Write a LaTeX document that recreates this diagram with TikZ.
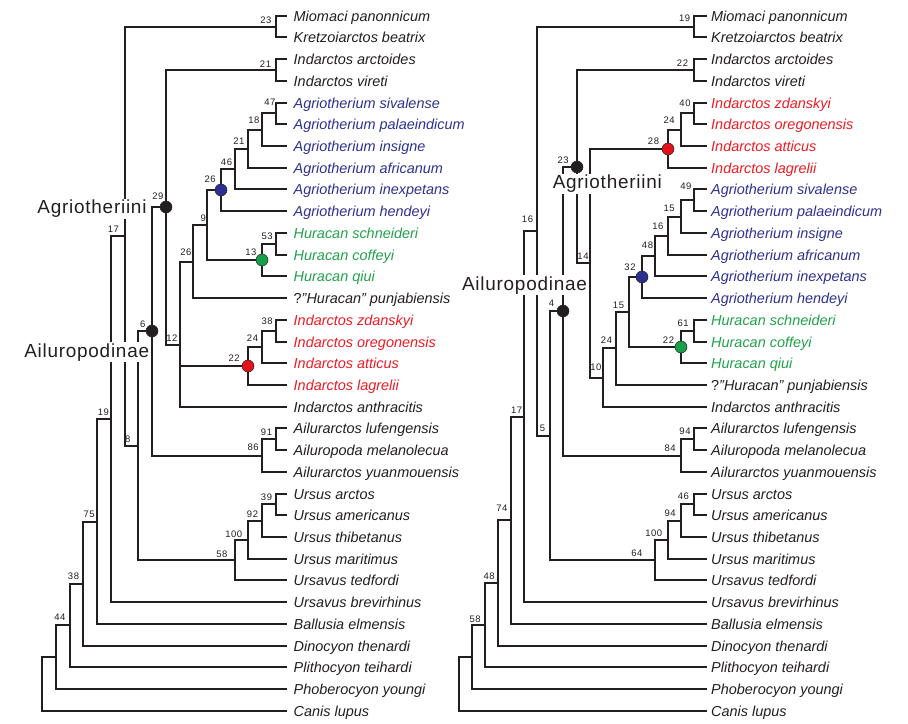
\documentclass[tikz,border=0pt]{standalone}
\usepackage{fontspec}
\setmainfont{Liberation Sans}
\newfontfamily\cladefont[LetterSpace=4]{Liberation Sans}
\newfontfamily\bsfont[LetterSpace=6]{Liberation Sans}
\definecolor{ink}{HTML}{231F20}
\definecolor{cblue}{HTML}{2E3192}
\definecolor{cred}{HTML}{ED1C24}
\definecolor{cgreen}{HTML}{22A24B}
\definecolor{dblue}{HTML}{2B2F8F}
\definecolor{dred}{HTML}{E3121B}
\definecolor{dgreen}{HTML}{16A04A}
\begin{document}
\begin{tikzpicture}[x=1bp,y=-1bp,
  br/.style={draw=ink, line width=1.8bp, line join=miter},
  leaf/.style={inner sep=0pt, anchor=base west, font=\itshape\fontsize{14.5}{17}\selectfont},
  bs/.style={inner sep=0pt, text=ink, font=\bsfont\fontsize{9.5}{11}\selectfont},
  clade/.style={inner sep=1pt, anchor=base, fill=white, text=ink, font=\cladefont\fontsize{19}{22}\selectfont},
  dot/.style={circle, minimum size=12bp, inner sep=0pt, draw=ink, line width=0.5bp}]
\useasboundingbox[fill=white] (0,0) rectangle (908,724);

% ---------- leaves ----------
\foreach \i/\nm/\col in {1/Miomaci panonnicum/ink, 2/Kretzoiarctos beatrix/ink,
  3/Indarctos arctoides/ink, 4/Indarctos vireti/ink,
  5/Agriotherium sivalense/cblue, 6/Agriotherium palaeindicum/cblue,
  7/Agriotherium insigne/cblue, 8/Agriotherium africanum/cblue,
  9/Agriotherium inexpetans/cblue, 10/Agriotherium hendeyi/cblue,
  11/Huracan schneideri/cgreen, 12/Huracan coffeyi/cgreen, 13/Huracan qiui/cgreen,
  14/{\upshape ?}"Huracan" punjabiensis/ink,
  15/Indarctos zdanskyi/cred, 16/Indarctos oregonensis/cred,
  17/Indarctos atticus/cred, 18/Indarctos lagrelii/cred,
  19/Indarctos anthracitis/ink, 20/Ailurarctos lufengensis/ink,
  21/Ailuropoda melanolecua/ink, 22/Ailurarctos yuanmouensis/ink,
  23/Ursus arctos/ink, 24/Ursus americanus/ink, 25/Ursus thibetanus/ink,
  26/Ursus maritimus/ink, 27/Ursavus tedfordi/ink, 28/Ursavus brevirhinus/ink,
  29/Ballusia elmensis/ink, 30/Dinocyon thenardi/ink, 31/Plithocyon teihardi/ink,
  32/Phoberocyon youngi/ink, 33/Canis lupus/ink}
{
  \coordinate (aL\i) at (287,{round(15.7+(\i-1)*21.72)});
  \node[leaf, text=\col] (aT\i) at (293.5,{round(15.7+(\i-1)*21.72)+5.4}) {\nm};
}
\foreach \i/\nm/\col in {1/Miomaci panonnicum/ink, 2/Kretzoiarctos beatrix/ink,
  3/Indarctos arctoides/ink, 4/Indarctos vireti/ink,
  5/Indarctos zdanskyi/cred, 6/Indarctos oregonensis/cred,
  7/Indarctos atticus/cred, 8/Indarctos lagrelii/cred,
  9/Agriotherium sivalense/cblue, 10/Agriotherium palaeindicum/cblue,
  11/Agriotherium insigne/cblue, 12/Agriotherium africanum/cblue,
  13/Agriotherium inexpetans/cblue, 14/Agriotherium hendeyi/cblue,
  15/Huracan schneideri/cgreen, 16/Huracan coffeyi/cgreen, 17/Huracan qiui/cgreen,
  18/{\upshape ?}"Huracan" punjabiensis/ink,
  19/Indarctos anthracitis/ink, 20/Ailurarctos lufengensis/ink,
  21/Ailuropoda melanolecua/ink, 22/Ailurarctos yuanmouensis/ink,
  23/Ursus arctos/ink, 24/Ursus americanus/ink, 25/Ursus thibetanus/ink,
  26/Ursus maritimus/ink, 27/Ursavus tedfordi/ink, 28/Ursavus brevirhinus/ink,
  29/Ballusia elmensis/ink, 30/Dinocyon thenardi/ink, 31/Plithocyon teihardi/ink,
  32/Phoberocyon youngi/ink, 33/Canis lupus/ink}
{
  \coordinate (bL\i) at (707,{round(15.7+(\i-1)*21.72)});
  \node[leaf, text=\col] (bT\i) at (711,{round(15.7+(\i-1)*21.72)+5.4}) {\nm};
}

% ---------- left internal nodes ----------
\coordinate (aN23) at (276,27);
\coordinate (aN21) at (276,70);
\coordinate (aN47) at (276,113);
\coordinate (aN18) at (262,130);
\coordinate (aN21b) at (248,149);
\coordinate (aN46) at (235,169);
\coordinate (aNblue) at (221,190);
\coordinate (aN53) at (276,244);
\coordinate (aNgreen) at (262,260);
\coordinate (aN9) at (207,225);
\coordinate (aN26) at (193,262);
\coordinate (aN38) at (276,331);
\coordinate (aN24) at (262,347);
\coordinate (aNred) at (248,366);
\coordinate (aN12) at (180,345);
\coordinate (aN29) at (166,207);
\coordinate (aN91) at (276,439);
\coordinate (aN86) at (262,456);
\coordinate (aN6) at (152,331);
\coordinate (aN39) at (276,504);
\coordinate (aN92) at (262,521);
\coordinate (aN100) at (248,540);
\coordinate (aN58) at (235,560);
\coordinate (aN8) at (138,446);
\coordinate (aN17) at (125,236);
\coordinate (aN19) at (111,419);
\coordinate (aN75) at (97,522);
\coordinate (aN38b) at (83,584);
\coordinate (aN44) at (70,625);
\coordinate (aN1) at (56,657);
\coordinate (aRoot) at (42,684);

% ---------- right internal nodes ----------
\coordinate (bN19) at (694,27);
\coordinate (bN22) at (694,70);
\coordinate (bN40) at (694,113);
\coordinate (bN24) at (681,130);
\coordinate (bNred) at (668,149);
\coordinate (bN49) at (694,200);
\coordinate (bN15) at (681,217);
\coordinate (bN16) at (668,236);
\coordinate (bN48) at (655,256);
\coordinate (bNblue) at (642,277);
\coordinate (bN61) at (694,331);
\coordinate (bNgreen) at (681,347);
\coordinate (bN15b) at (629,312);
\coordinate (bN24b) at (616,348);
\coordinate (bN10) at (603,378);
\coordinate (bN14) at (590,263);
\coordinate (bN23) at (577,167);
\coordinate (bN94) at (694,439);
\coordinate (bN84) at (681,456);
\coordinate (bN4) at (563,311);
\coordinate (bN46) at (694,504);
\coordinate (bN94b) at (681,521);
\coordinate (bN100) at (668,540);
\coordinate (bN64) at (655,560);
\coordinate (bN5) at (550,436);
\coordinate (bN16b) at (537,231);
\coordinate (bN17) at (524,417);
\coordinate (bN74) at (511,520);
\coordinate (bN48b) at (498,583);
\coordinate (bN58) at (485,625);
\coordinate (bN1) at (472,657);
\coordinate (bRoot) at (459,684);

% ---------- branches ----------
\foreach \p/\c in {aN23/aL1, aN23/aL2, aN21/aL3, aN21/aL4, aN47/aL5, aN47/aL6,
  aN18/aN47, aN18/aL7, aN21b/aN18, aN21b/aL8, aN46/aN21b, aN46/aL9,
  aNblue/aN46, aNblue/aL10, aN53/aL11, aN53/aL12, aNgreen/aN53, aNgreen/aL13,
  aN9/aNblue, aN9/aNgreen, aN26/aN9, aN26/aL14, aN38/aL15, aN38/aL16,
  aN24/aN38, aN24/aL17, aNred/aN24, aNred/aL18, aN12/aN26, aN12/aNred, aN12/aL19,
  aN29/aN21, aN29/aN12, aN91/aL20, aN91/aL21, aN86/aN91, aN86/aL22,
  aN6/aN29, aN6/aN86, aN39/aL23, aN39/aL24, aN92/aN39, aN92/aL25,
  aN100/aN92, aN100/aL26, aN58/aN100, aN58/aL27, aN8/aN6, aN8/aN58,
  aN17/aN23, aN17/aN8, aN19/aN17, aN19/aL28, aN75/aN19, aN75/aL29,
  aN38b/aN75, aN38b/aL30, aN44/aN38b, aN44/aL31, aN1/aN44, aN1/aL32,
  aRoot/aN1, aRoot/aL33,
  bN19/bL1, bN19/bL2, bN22/bL3, bN22/bL4, bN40/bL5, bN40/bL6,
  bN24/bN40, bN24/bL7, bNred/bN24, bNred/bL8, bN49/bL9, bN49/bL10,
  bN15/bN49, bN15/bL11, bN16/bN15, bN16/bL12, bN48/bN16, bN48/bL13,
  bNblue/bN48, bNblue/bL14, bN61/bL15, bN61/bL16, bNgreen/bN61, bNgreen/bL17,
  bN15b/bNblue, bN15b/bNgreen, bN24b/bN15b, bN24b/bL18, bN10/bN24b, bN10/bL19,
  bN14/bNred, bN14/bN10, bN23/bN22, bN23/bN14, bN94/bL20, bN94/bL21,
  bN84/bN94, bN84/bL22, bN4/bN23, bN4/bN84, bN46/bL23, bN46/bL24,
  bN94b/bN46, bN94b/bL25, bN100/bN94b, bN100/bL26, bN64/bN100, bN64/bL27,
  bN5/bN4, bN5/bN64, bN16b/bN19, bN16b/bN5, bN17/bN16b, bN17/bL28,
  bN74/bN17, bN74/bL29, bN48b/bN74, bN48b/bL30, bN58/bN48b, bN58/bL31,
  bN1/bN58, bN1/bL32, bRoot/bN1, bRoot/bL33}
  \draw[br] (\p) |- (\c);

% ---------- clade labels ----------
\node[clade] (aAgrio) at (92,213.7) {Agriotheriini};
\node[clade] (aAilu) at (86.7,357) {Ailuropodinae};
\node[clade] (bAgrio) at (607.3,188.7) {Agriotheriini};
\node[clade] (bAilu) at (524.5,290) {Ailuropodinae};

% ---------- dots ----------
\node[dot, fill=ink] (aD29) at (aN29) {};
\node[dot, fill=ink] (aD6) at (aN6) {};
\node[dot, fill=dblue] (aDblue) at (aNblue) {};
\node[dot, fill=dgreen] (aDgreen) at (aNgreen) {};
\node[dot, fill=dred] (aDred) at (aNred) {};
\node[dot, fill=ink] (bD23) at (bN23) {};
\node[dot, fill=ink] (bD4) at (bN4) {};
\node[dot, fill=dred] (bDred) at (bNred) {};
\node[dot, fill=dblue] (bDblue) at (bNblue) {};
\node[dot, fill=dgreen] (bDgreen) at (bNgreen) {};

% ---------- support values ----------
\foreach \n/\lab/\px/\py in {aN23/23/265.8/20.7, aN21/21/265.5/63.7, aN47/47/269.8/102.7,
  aN18/18/253.8/120, aN21b/21/238.8/140.8, aN46/46/226.5/162.7, aNblue/26/210.2/179.3,
  aN29/29/157.8/196, aN17/17/113.3/229, aN9/9/203.3/218.3, aN53/53/267.2/235.8,
  aNgreen/13/250.8/252.7, aN26/26/185.8/252.7, aN38/38/267.2/321, aN6/6/142.8/324.3,
  aN24/24/252.5/337.7, aN12/12/171.8/338.3, aNred/22/234.2/358.3, aN19/19/103.3/412.7,
  aN91/91/266.5/432.7, aN8/8/127.8/439.3, aN86/86/253.2/447.7, aN39/39/266.5/497.3,
  aN75/75/89.2/514, aN92/92/252.5/514, aN100/100/233.8/534.3, aN58/58/221.8/554.3,
  aN38b/38/73.5/576, aN44/44/59.8/617.7,
  bN19/19/684.7/18, bN22/22/682.5/63.3, bN40/40/685/103.3, bN24/24/669.2/120,
  bNred/28/653.5/141, bN23/23/563.2/160.7, bN49/49/685.8/186.7, bN15/15/669.2/208.3,
  bN16/16/657.8/226, bN16b/16/527.5/219.3, bN48/48/647.5/245, bN14/14/583/256,
  bNblue/32/630/267, bN4/4/551.5/302.8, bN15b/15/618.5/305, bN61/61/683.2/323.3,
  bN24b/24/606.5/340, bNgreen/22/668.5/339.7, bN10/10/595.8/367.7, bN17/17/516.7/410.7,
  bN5/5/542.5/428.3, bN94/94/685/431, bN84/84/670.2/448.3, bN46/46/683.3/496,
  bN94b/94/670.2/513.3, bN100/100/653.8/533.3, bN64/64/636.8/553.3,
  bN74/74/501.8/508.3, bN48b/48/489.2/576, bN58/58/475.2/619.3}
  \node[bs] (\n-l) at (\px,\py) {\lab};
\end{tikzpicture}
\end{document}
